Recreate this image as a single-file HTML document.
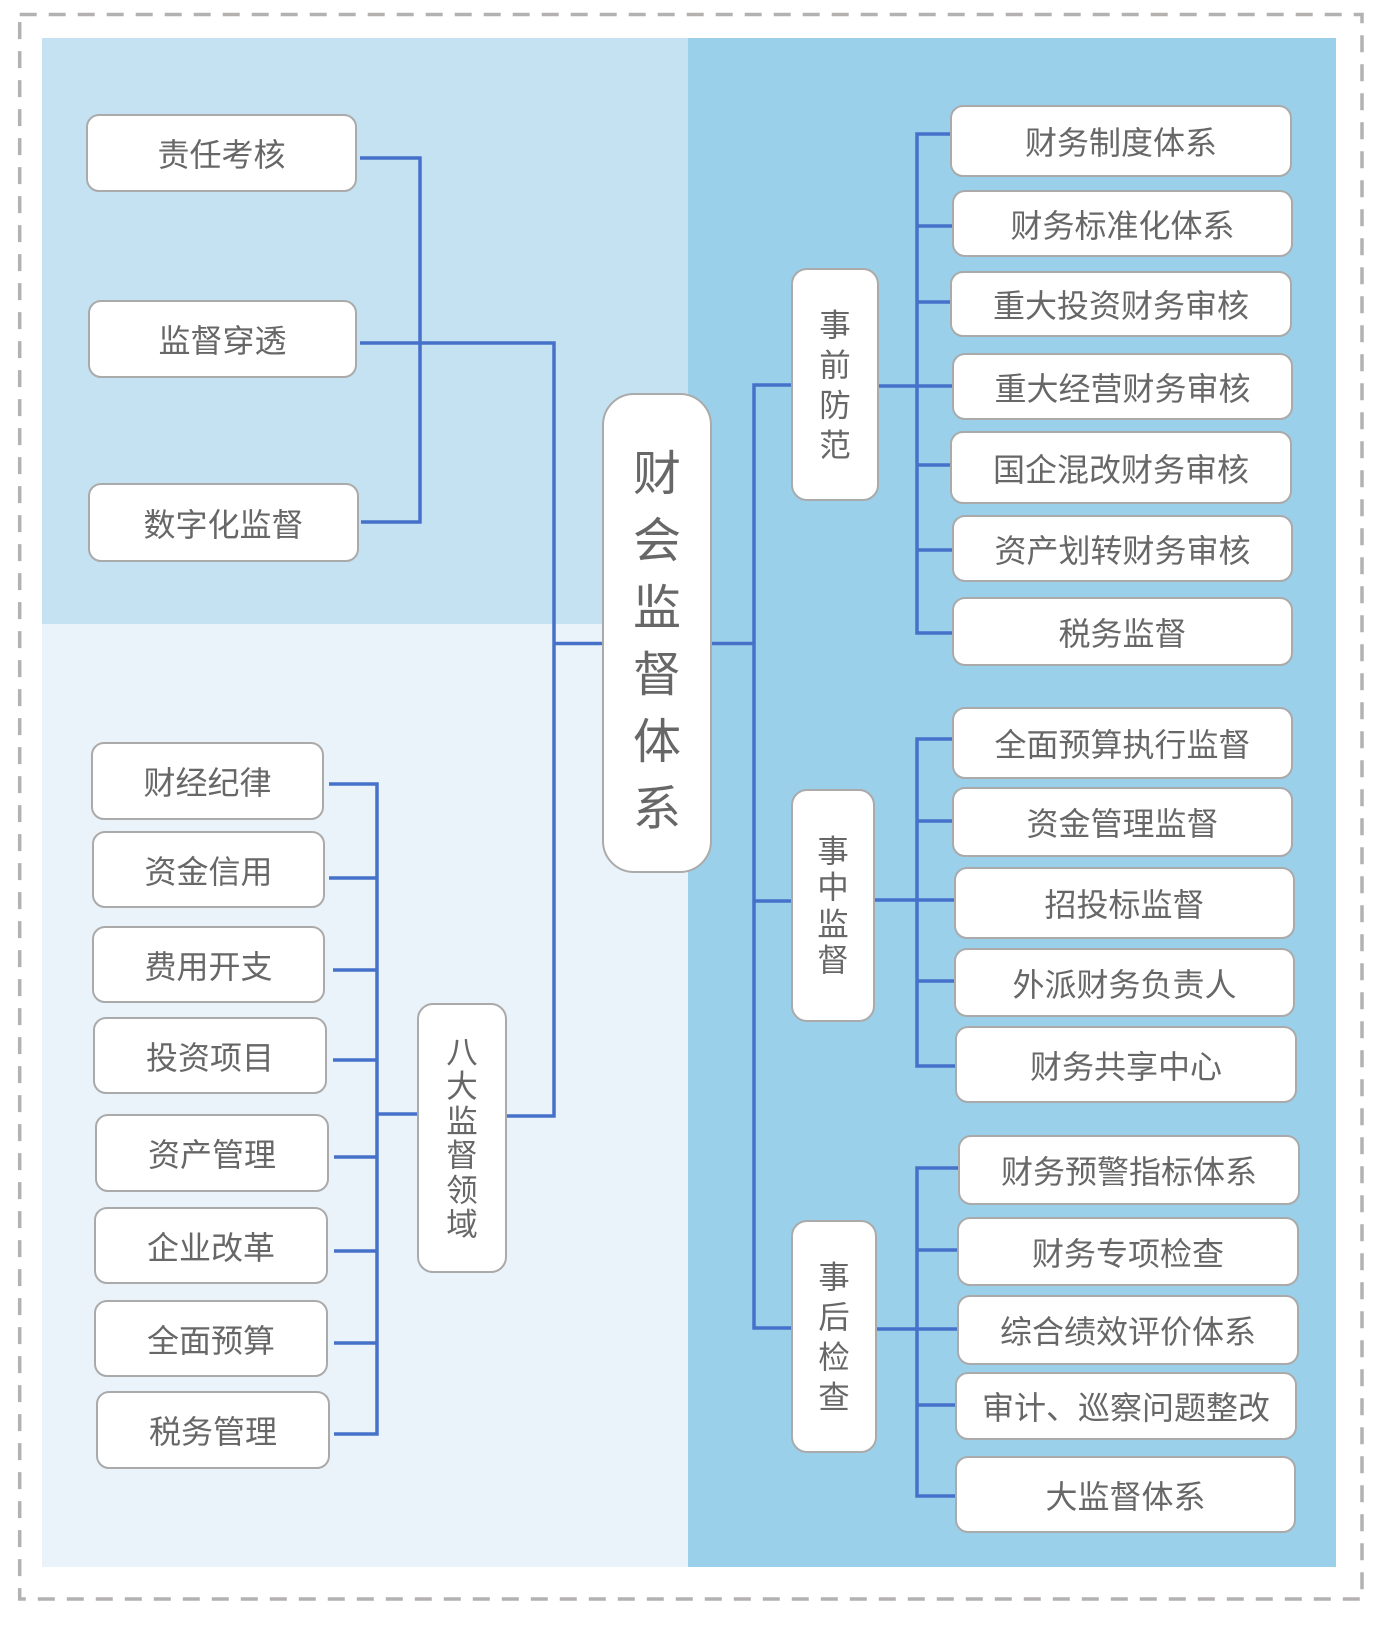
<!DOCTYPE html>
<html><head><meta charset="utf-8">
<style>
*{margin:0;padding:0;box-sizing:border-box}
html,body{width:1384px;height:1627px;background:#fff;overflow:hidden}
body{position:relative;font-family:"Liberation Sans","Noto Sans CJK SC",sans-serif;color:#676767}
.bg{position:absolute}
svg{position:absolute;left:0;top:0}
.b{position:absolute;background:#fff;border:2px solid #aaaaaa;border-radius:13px;display:flex;align-items:center;justify-content:center;font-size:32px;line-height:1;white-space:nowrap;padding-top:4px}
.v{position:absolute;background:#fff;border:2px solid #aaaaaa;border-radius:16px;display:flex;align-items:center;justify-content:center;font-size:31.5px}
.v div{width:34px;text-align:center;word-break:break-all;white-space:normal}
</style>
</head>
<body>
<div class="bg" style="left:42px;top:38px;width:646px;height:586px;background:#c5e2f3"></div>
<div class="bg" style="left:42px;top:624px;width:646px;height:943px;background:#ebf3fa"></div>
<div class="bg" style="left:688px;top:38px;width:648px;height:1529px;background:#9bd0ea"></div>

<svg width="1384" height="1627" viewBox="0 0 1384 1627">
<rect x="19.7" y="14.5" width="1342.3" height="1584.5" fill="none" stroke="#b4b1b1" stroke-width="3.5" stroke-dasharray="17 12"/>
<g fill="none" stroke="#4671c9" stroke-width="3.5" stroke-linejoin="miter">
<polyline points="360,158 420,158 420,522 361,522"/>
<polyline points="360,343 554,343 554,1116 507,1116"/>
<line x1="554" y1="643.5" x2="602" y2="643.5"/>
<polyline points="329,784 377,784 377,1434 334,1434"/>
<line x1="329" y1="878" x2="377" y2="878"/>
<line x1="333" y1="970" x2="377" y2="970"/>
<line x1="333" y1="1060" x2="377" y2="1060"/>
<line x1="334" y1="1157" x2="377" y2="1157"/>
<line x1="334" y1="1251" x2="377" y2="1251"/>
<line x1="334" y1="1343" x2="377" y2="1343"/>
<line x1="377" y1="1114" x2="417" y2="1114"/>
<line x1="712" y1="643.5" x2="754" y2="643.5"/>
<polyline points="791,385 754,385 754,1328 791,1328"/>
<line x1="754" y1="901" x2="791" y2="901"/>
<polyline points="950,134 917,134 917,633 952,633"/>
<line x1="917" y1="226" x2="952" y2="226"/>
<line x1="917" y1="302" x2="950" y2="302"/>
<line x1="879" y1="386" x2="952" y2="386"/>
<line x1="917" y1="465" x2="950" y2="465"/>
<line x1="917" y1="550" x2="952" y2="550"/>
<polyline points="952,739 917,739 917,1066 955,1066"/>
<line x1="917" y1="821" x2="952" y2="821"/>
<line x1="875" y1="900" x2="954" y2="900"/>
<line x1="917" y1="981" x2="954" y2="981"/>
<polyline points="958,1168 917,1168 917,1496 955,1496"/>
<line x1="917" y1="1250" x2="957" y2="1250"/>
<line x1="877" y1="1329" x2="957" y2="1329"/>
<line x1="917" y1="1405" x2="955" y2="1405"/>
</g>
</svg>

<div class="b" style="left:86px;top:114px;width:271px;height:78px">责任考核</div>
<div class="b" style="left:88px;top:300px;width:269px;height:78px">监督穿透</div>
<div class="b" style="left:88px;top:483px;width:271px;height:79px">数字化监督</div>

<div class="b" style="left:91px;top:742px;width:233px;height:78px">财经纪律</div>
<div class="b" style="left:92px;top:831px;width:233px;height:77px">资金信用</div>
<div class="b" style="left:92px;top:926px;width:233px;height:77px">费用开支</div>
<div class="b" style="left:93px;top:1017px;width:234px;height:77px">投资项目</div>
<div class="b" style="left:95px;top:1114px;width:234px;height:78px">资产管理</div>
<div class="b" style="left:94px;top:1207px;width:234px;height:77px">企业改革</div>
<div class="b" style="left:94px;top:1300px;width:234px;height:77px">全面预算</div>
<div class="b" style="left:96px;top:1391px;width:234px;height:78px">税务管理</div>

<div class="v" style="left:417px;top:1003px;width:90px;height:270px"><div style="line-height:34.5px">八大监督领域</div></div>

<div style="position:absolute;left:602px;top:393px;width:110px;height:480px;background:#fff;border:2px solid #aaaaaa;border-radius:32px"></div>
<div style="position:absolute;left:627px;top:441px;width:60px;font-size:48px;line-height:67px;text-align:center;word-break:break-all">财会监督体系</div>

<div class="v" style="left:791px;top:268px;width:88px;height:233px"><div style="line-height:40px">事前防范</div></div>
<div class="v" style="left:791px;top:789px;width:84px;height:233px"><div style="line-height:36.5px">事中监督</div></div>
<div class="v" style="left:791px;top:1220px;width:86px;height:233px"><div style="line-height:40px">事后检查</div></div>

<div class="b" style="left:950px;top:105px;width:342px;height:72px">财务制度体系</div>
<div class="b" style="left:952px;top:190px;width:341px;height:67px">财务标准化体系</div>
<div class="b" style="left:950px;top:271px;width:342px;height:66px">重大投资财务审核</div>
<div class="b" style="left:952px;top:353px;width:341px;height:67px">重大经营财务审核</div>
<div class="b" style="left:950px;top:431px;width:342px;height:73px">国企混改财务审核</div>
<div class="b" style="left:952px;top:515px;width:341px;height:67px">资产划转财务审核</div>
<div class="b" style="left:952px;top:597px;width:341px;height:69px">税务监督</div>

<div class="b" style="left:952px;top:707px;width:341px;height:72px">全面预算执行监督</div>
<div class="b" style="left:952px;top:787px;width:341px;height:70px">资金管理监督</div>
<div class="b" style="left:954px;top:867px;width:341px;height:72px">招投标监督</div>
<div class="b" style="left:954px;top:948px;width:341px;height:69px">外派财务负责人</div>
<div class="b" style="left:955px;top:1026px;width:342px;height:77px">财务共享中心</div>

<div class="b" style="left:958px;top:1135px;width:342px;height:70px">财务预警指标体系</div>
<div class="b" style="left:957px;top:1217px;width:342px;height:69px">财务专项检查</div>
<div class="b" style="left:957px;top:1295px;width:342px;height:70px">综合绩效评价体系</div>
<div class="b" style="left:955px;top:1372px;width:342px;height:68px">审计、巡察问题整改</div>
<div class="b" style="left:955px;top:1456px;width:341px;height:77px">大监督体系</div>
</body></html>
